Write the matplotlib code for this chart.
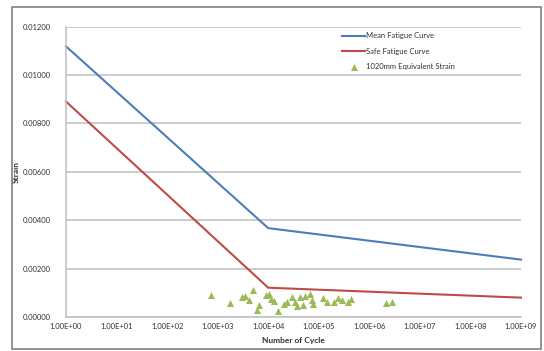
import matplotlib
matplotlib.use("Agg")
import matplotlib.pyplot as plt
from matplotlib.patches import Rectangle

# Fatigue curves (cycles, strain)
curve_cycles = [1e0, 1e4, 1e9]
mean_strain = [0.01118, 0.00367, 0.00237]
safe_strain = [0.00890, 0.00121, 0.00080]

# Equivalent strain points for the 1020mm case
eq_cycles = [728, 1754, 2985, 3467, 4217, 4932, 5916, 6653, 9036, 10500,
             11350, 13180, 15380, 20800, 23170, 29110, 33810, 36560, 42460,
             49320, 53330, 66990, 72440, 77800, 122700, 143200, 202800,
             243200, 283800, 383700, 433500, 2133000, 2767000]
eq_strain = [0.00091, 0.00059, 0.00084, 0.00087, 0.00070, 0.00112, 0.00029,
             0.00050, 0.00091, 0.00095, 0.00073, 0.00067, 0.00026, 0.00054,
             0.00063, 0.00084, 0.00063, 0.00046, 0.00084, 0.00050, 0.00087,
             0.00095, 0.00070, 0.00054, 0.00077, 0.00063, 0.00063, 0.00077,
             0.00070, 0.00063, 0.00073, 0.00059, 0.00063]

x_ticks = [10.0 ** k for k in range(10)]
x_tick_labels = ["1.00E+%02d" % k for k in range(10)]
y_ticks = [0.0, 0.002, 0.004, 0.006, 0.008, 0.010, 0.012]
y_tick_labels = ["%.5f" % v for v in y_ticks]

plt.rcParams["font.family"] = ["Lato", "DejaVu Sans"]

W, H = 544, 351
fig = plt.figure(figsize=(W / 100, H / 100), dpi=100)
ax = fig.add_axes([66 / W, 1 - 317 / H, (521 - 66) / W, (317 - 26.5) / H])

grid_c = "#BFBFBF"
ax.set_xscale("log")
ax.set_xlim(1, 1e9)
ax.set_ylim(0, 0.012)
ax.set_yticks(y_ticks)
ax.set_yticklabels(y_tick_labels)
ax.set_xticks(x_ticks)
ax.set_xticklabels(x_tick_labels)
ax.minorticks_off()
ax.grid(axis="y", color=grid_c, linewidth=1.1)
ax.set_axisbelow(True)
for s in ["top", "right"]:
    ax.spines[s].set_visible(False)
for s in ["left", "bottom"]:
    ax.spines[s].set_color(grid_c)
    ax.spines[s].set_linewidth(1.1)
ax.tick_params(axis="both", length=0, labelsize=5.5, colors="#333333")
ax.tick_params(axis="y", pad=11)
ax.tick_params(axis="x", pad=4)

ax.plot(curve_cycles, mean_strain, color="#4A7EBB", linewidth=1.5,
        label="Mean Fatigue Curve", clip_on=False)
ax.plot(curve_cycles, safe_strain, color="#BE4B48", linewidth=1.5,
        label="Safe Fatigue Curve", clip_on=False)
ax.scatter(eq_cycles, eq_strain, marker="^", s=26, color="#9BBB59",
           linewidths=0, label="1020mm Equivalent Strain", zorder=3)

ax.set_xlabel("Number of Cycle", fontsize=6, fontweight="bold",
              color="#333333", labelpad=5)
ax.set_ylabel("Strain", fontsize=6, fontweight="bold", color="#333333")
ax.yaxis.set_label_coords((20 - 66) / (521 - 66), 0.5)

leg = ax.legend(loc="upper left", bbox_to_anchor=(0.6, 0.99), frameon=False,
                fontsize=5.5, handlelength=3.0, handletextpad=0.2,
                labelspacing=1.1, borderaxespad=0)
for t in leg.get_texts():
    t.set_color("#333333")

# Chart area border
fig.patches.append(Rectangle((12 / W, 1 - 349 / H), (541 - 12) / W,
                             (349 - 7) / H, transform=fig.transFigure,
                             fill=False, edgecolor="#808080", linewidth=1.2))

fig.savefig("out.png", dpi=100)
